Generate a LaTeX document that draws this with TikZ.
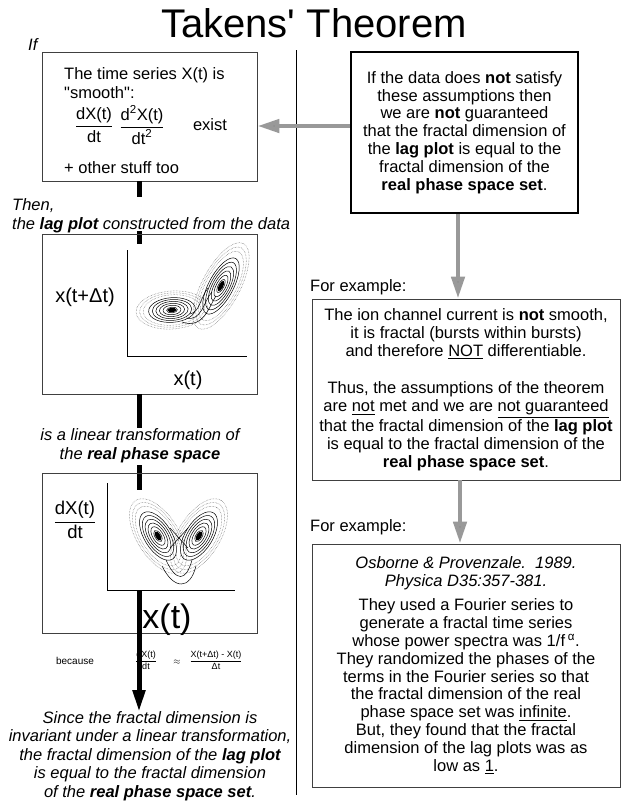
\documentclass[tikz,border=0pt]{standalone}
\usepackage{fontspec}
\setmainfont{Liberation Sans}
\usepackage{amsmath}
\usetikzlibrary{arrows.meta,positioning}

% fraction set in the text font
\newcommand{\tfr}[2]{\ensuremath{\dfrac{\text{#1}}{\text{#2}}}}
% one wing of the attractor: centre x, centre y, tilt, half axes
\newcommand{\wing}[5]{%
  \foreach \s in {0.15,0.25,...,0.7}
    \draw[line width=0.5pt,rotate around={#3:(#1,#2)}] (#1,#2) ellipse ({#4*\s} and {#5*\s});
  \foreach \s in {0.8,0.9,1.0}
    \draw[line width=0.5pt,densely dotted,black!60,rotate around={#3:(#1,#2)}] (#1,#2) ellipse ({#4*\s} and {#5*\s});
  \fill[rotate around={#3:(#1,#2)}] (#1,#2) ellipse ({#4*0.12} and {#5*0.12});
}

\begin{document}
\begin{tikzpicture}[x=1pt,y=-1pt,
  box/.style={draw=black!75,line width=0.8pt,inner sep=0pt},
  bigbox/.style={draw,line width=2.2pt,inner sep=0pt},
  txt/.style={font=\fontsize{16.5}{17.8}\selectfont,align=center,inner sep=0pt},
  itxt/.style={font=\fontsize{16.5}{19}\selectfont\itshape,align=center,inner sep=0pt},
  link/.style={line width=5pt},
  garrow/.style={line width=4.5pt,draw=black!40,-{Triangle[length=22pt,width=13pt,fill=black!45]}},
  axis/.style={line width=1pt}
]
\useasboundingbox (0,0) rectangle (628,801);

\node[font=\fontsize{40}{40}\selectfont] (title) at (314,23) {Takens\textquotesingle\ Theorem};
\draw[line width=0.8pt] (296,50) -- (296,795);

% left column
\node[itxt,anchor=west] (if) at (28,45) {If};
\node[box,minimum width=215pt,minimum height=129pt] (box1) at (149.5,116.5) {};
\node[txt,align=left,anchor=west,font=\fontsize{16.5}{19}\selectfont] (smooth) at (64,83) {The time series X(t) is\\\textquotedbl smooth\textquotedbl :};
\node[txt] (d1) at (94,125) {\tfr{dX(t)}{dt}};
\node[txt] (d2) at (142,125) {\tfr{d\textsuperscript{2}X(t)}{dt\textsuperscript{2}}};
\node[txt] (exist) at (210,125) {exist};
\node[txt,anchor=west] (other) at (64,168) {+ other stuff too};

\coordinate (j1) at (139,197);
\draw[link] (box1.south -| j1) -- (j1);
\node[itxt,align=left,anchor=west] (then) at (12,216) {Then,\\the \textbf{lag plot} constructed from the data};
\coordinate (j2) at (139,231);
\coordinate (j3) at (139,244);
\draw[link] (j2) -- (j3);

\node[box,minimum width=215pt,minimum height=160pt] (box2) at (149.5,314) {};
\draw[axis] (127,250) -- (127,356) -- (247,356);
\wing{172}{310}{4}{36}{19}
\wing{221}{286}{62}{48}{19}
\draw[line width=0.5pt] (186,318) .. controls (202,322) and (204,300) .. (212,292);
\draw[line width=0.5pt] (182,322) .. controls (204,330) and (210,304) .. (216,296);
\draw[line width=0.5pt] (190,314) .. controls (200,312) and (200,298) .. (208,288);
\node[font=\fontsize{20}{20}\selectfont] (lagy) at (85,297) {x(t+Δt)};
\node[font=\fontsize{20}{20}\selectfont] (lagx) at (188,380) {x(t)};

\coordinate (j4) at (139,428);
\draw[link] (box2.south -| j4) -- (j4);
\node[itxt] (linear) at (140,446) {is a linear transformation of\\the \textbf{real phase space}};
\coordinate (j5) at (139,465);
\coordinate (j6) at (139,490);
\draw[link] (j5) -- (j6);

\node[box,minimum width=215pt,minimum height=160pt] (box3) at (149.5,553) {};
\draw[axis] (107,483) -- (107,590) -- (235,590);
\wing{158}{536}{-58}{42}{21}
\wing{199}{536}{58}{42}{21}
\draw[line width=0.5pt] (166,560) .. controls (176,582) and (186,582) .. (192,560);
\draw[line width=0.5pt] (162,566) .. controls (174,590) and (190,590) .. (196,566);
\draw[line width=0.5pt] (170,528) -- (188,548);
\draw[line width=0.5pt] (188,528) -- (170,548);
\node[font=\fontsize{18.5}{18.5}\selectfont] (phy) at (75,520) {\tfr{dX(t)}{dt}};
\node[font=\fontsize{34}{34}\selectfont] (phx) at (167,620) {x(t)};

\coordinate (j7) at (139,590);
\coordinate (j8) at (139,712);
\draw[link,-{Triangle[length=22pt,width=12pt]}] (j7) -- (j8);
\node[font=\fontsize{10}{10}\selectfont] (because) at (75,661) {because};
\node[font=\fontsize{9}{9}\selectfont] (dxdt) at (146,660) {\tfr{dX(t)}{dt}};
\node[font=\fontsize{9}{9}\selectfont] (approx) at (177,662) {$\approx$};
\node[font=\fontsize{9}{9}\selectfont] (diff) at (216,660) {\tfr{X(t+Δt) - X(t)}{Δt}};

\node[itxt,font=\fontsize{16.5}{18.6}\selectfont\itshape] (since) at (150,756) {Since the fractal dimension is\\invariant under a linear transformation,\\the fractal dimension of the \textbf{lag plot}\\is equal to the fractal dimension\\of the \textbf{real phase space set}.};

% right column
\node[bigbox,txt,minimum width=227pt,minimum height=161pt] (r1) at (464.5,132.5) {If the data does \textbf{not} satisfy\\these assumptions then\\we are \textbf{not} guaranteed\\that the fractal dimension of\\the \textbf{lag plot} is equal to the\\fractal dimension of the\\\textbf{real phase space set}.};
\draw[garrow] (r1.west |- 0,126) -- (box1.east |- 0,126);

\node[txt,anchor=west] (ex1) at (310,287) {For example:};
\node[box,txt,minimum width=308pt,minimum height=181pt] (r2) at (466,389.5) {The ion channel current is \textbf{not} smooth,\\it is fractal (bursts within bursts)\\and therefore \underline{NOT} differentiable.\\[20pt]Thus, the assumptions of the theorem\\are \underline{not} met and we are \underline{not guaranteed}\\that the fractal dimension of the \textbf{lag plot}\\is equal to the fractal dimension of the\\\textbf{real phase space set}.};
\draw[garrow] (r1.south -| 458,0) -- (r2.north -| 458,0);

\node[txt,anchor=west] (ex2) at (310,527) {For example:};
\node[box,txt,minimum width=308pt,minimum height=243pt] (r3) at (466,665.5) {\textit{Osborne \& Provenzale.\ \ 1989.}\\\textit{Physica D35:357-381.}\\[7pt]They used a Fourier series to\\generate a fractal time series\\whose power spectra was 1/f\,\textsuperscript{α}.\\They randomized the phases of the\\terms in the Fourier series so that\\the fractal dimension of the real\\phase space set was \underline{infinite}.\\But, they found that the fractal\\dimension of the lag plots was as\\low as \underline{1}.};
\draw[garrow] (r2.south -| 460,0) -- (r3.north -| 460,0);
\end{tikzpicture}
\end{document}
